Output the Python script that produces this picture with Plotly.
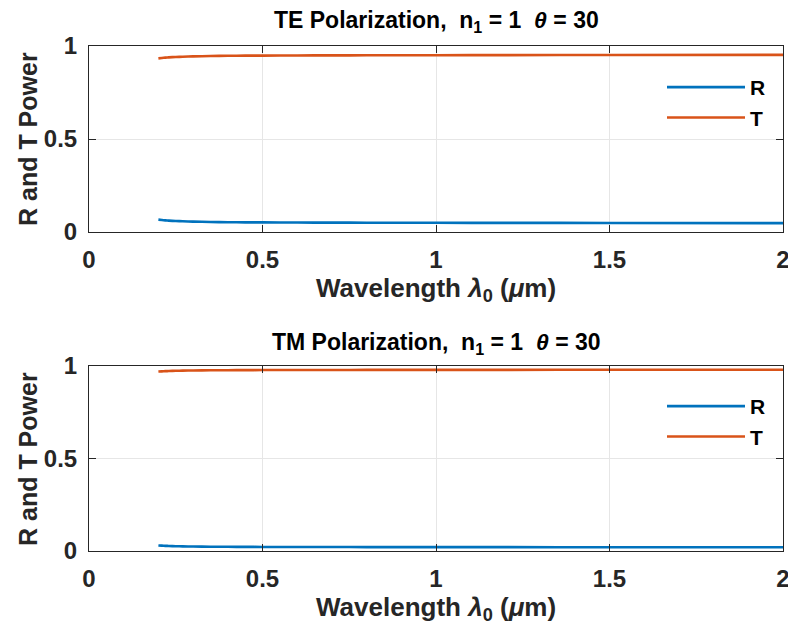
import plotly.graph_objects as go

# Wavelength samples (µm) and read-off values
wavelength = [0.2, 0.21, 0.22, 0.23, 0.25, 0.27, 0.3, 0.35, 0.4, 0.45, 0.5, 0.6, 0.7, 0.8, 1.0, 1.2, 1.5, 2.0]
te_R = [0.0665, 0.0644, 0.0627, 0.0612, 0.0591, 0.0575, 0.0557, 0.0539, 0.0528, 0.0520, 0.0515, 0.0507, 0.0503, 0.0500, 0.0495, 0.0491, 0.0485, 0.0475]
te_T = [0.9335, 0.9356, 0.9373, 0.9388, 0.9409, 0.9425, 0.9443, 0.9461, 0.9472, 0.9480, 0.9485, 0.9493, 0.9497, 0.9500, 0.9505, 0.9509, 0.9515, 0.9525]
tm_R = [0.0300, 0.0288, 0.0279, 0.0271, 0.0259, 0.0251, 0.0241, 0.0232, 0.0226, 0.0222, 0.0219, 0.0216, 0.0213, 0.0212, 0.0209, 0.0207, 0.0204, 0.0199]
tm_T = [0.9700, 0.9712, 0.9721, 0.9729, 0.9741, 0.9749, 0.9759, 0.9768, 0.9774, 0.9778, 0.9781, 0.9784, 0.9787, 0.9788, 0.9791, 0.9793, 0.9796, 0.9801]

x_ticks = [0, 0.5, 1, 1.5, 2]
x_tick_text = ["0", "0.5", "1", "1.5", "2"]
y_ticks = [0, 0.5, 1]
y_tick_text = ["0", "0.5", "1"]

titles = ["TE Polarization,  n<sub>1</sub> = 1  <i>θ</i> = 30",
          "TM Polarization,  n<sub>1</sub> = 1  <i>θ</i> = 30"]
x_title = "Wavelength <i>λ</i><sub>0</sub> (<i>μ</i>m)"
y_title = "R and T Power"

C_R = "#0072BD"
C_T = "#D95319"
W, H = 796, 639
OFF = 8  # page body margin offset
FONT = "Liberation Sans"


def px(v):
    return (v - OFF) / W


def py(v):
    return 1 - (v - OFF) / H


fig = go.Figure()
for xa, ya, lg, r, t in [("x", "y", "legend", te_R, te_T), ("x2", "y2", "legend2", tm_R, tm_T)]:
    fig.add_trace(go.Scatter(x=wavelength, y=r, mode="lines", line=dict(color=C_R, width=2.6, shape="spline", smoothing=0.6),
                             name="R", xaxis=xa, yaxis=ya, legend=lg, legendgroup=lg + "R"))
    fig.add_trace(go.Scatter(x=wavelength, y=t, mode="lines", line=dict(color=C_T, width=2.6, shape="spline", smoothing=0.6),
                             name="T", xaxis=xa, yaxis=ya, legend=lg, legendgroup=lg + "T"))

xd = [px(89), px(783)]
top = [py(232), py(46)]
bot = [py(551), py(366)]

tickfont = dict(family=FONT, size=24, color="#262626", weight="bold")
ax_common = dict(showline=True, mirror="ticks", linecolor="#262626", linewidth=1,
                 ticks="inside", ticklen=7, tickcolor="#262626", automargin=False,
                 showgrid=True, gridcolor="#e6e6e6", gridwidth=1, zeroline=False,
                 tickfont=tickfont, ticklabelstandoff=6)

legend_common = dict(xanchor="left", yanchor="top", bgcolor="rgba(0,0,0,0)",
                     font=dict(family=FONT, size=21, color="black", weight="bold"),
                     itemwidth=78, tracegroupgap=0)

fig.update_layout(
    width=W, height=H,
    margin=dict(l=0, r=0, t=0, b=0, autoexpand=False),
    paper_bgcolor="white", plot_bgcolor="white",
    showlegend=True,
    xaxis=dict(domain=xd, range=[0, 2], tickvals=x_ticks, ticktext=x_tick_text, anchor="y", **ax_common),
    yaxis=dict(domain=top, range=[0, 1], tickvals=y_ticks, ticktext=y_tick_text, anchor="x", **ax_common),
    xaxis2=dict(domain=xd, range=[0, 2], tickvals=x_ticks, ticktext=x_tick_text, anchor="y2", **ax_common),
    yaxis2=dict(domain=bot, range=[0, 1], tickvals=y_ticks, ticktext=y_tick_text, anchor="x2", **ax_common),
    legend=dict(x=px(662), y=py(67), **legend_common),
    legend2=dict(x=px(662), y=py(386), **legend_common),
)

xlab_font = dict(family=FONT, size=26, color="#262626", weight="bold")
ylab_font = dict(family=FONT, size=25, color="#262626", weight="bold")
title_font = dict(family=FONT, size=23, color="black", weight="bold")
cx = (xd[0] + xd[1]) / 2
for i, (ty, xy, yy) in enumerate([(22, 290, 139), (343, 608, 459)]):
    fig.add_annotation(text=titles[i], x=cx, y=py(ty), xref="paper", yref="paper",
                       showarrow=False, font=title_font, xanchor="center", yanchor="middle")
    fig.add_annotation(text=x_title, x=cx, y=py(xy), xref="paper", yref="paper",
                       showarrow=False, font=xlab_font, xanchor="center", yanchor="middle")
    fig.add_annotation(text=y_title, x=px(28), y=py(yy), xref="paper", yref="paper",
                       showarrow=False, font=ylab_font, textangle=-90, xanchor="center", yanchor="middle")

fig.write_html("out.html")
